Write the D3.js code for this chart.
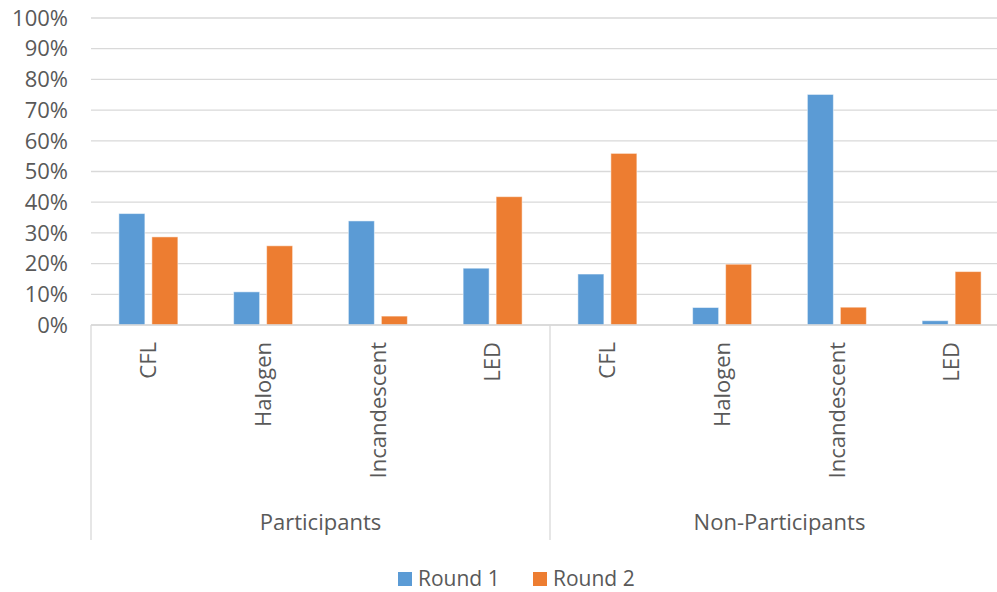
<!DOCTYPE html>
<html>
    <head>
        <meta charset="utf-8" />
        <style>
            body{ margin: 0; background: #fff; }
            svg{ display: block; }
            text{ font-family: "Open Sans", sans-serif; font-size: 22px; fill: #595959; }
            .legend text{ font-size: 21px; }
        </style>
    </head>
    <body>
        <svg id="chart" width="997" height="592"></svg>
        <script src="https://cdnjs.cloudflare.com/ajax/libs/d3/7.8.5/d3.min.js" charset="utf-8"></script>
        <script>
            var groups = ['Participants', 'Non-Participants'];
            var lampTypes = ['CFL', 'Halogen', 'Incandescent', 'LED'];
            var seriesNames = ['Round 1', 'Round 2'];
            var round1 = [0.363, 0.108, 0.339, 0.185, 0.166, 0.057, 0.751, 0.014];
            var round2 = [0.287, 0.258, 0.029, 0.418, 0.559, 0.198, 0.058, 0.174];
            var yTicks = [0, 0.1, 0.2, 0.3, 0.4, 0.5, 0.6, 0.7, 0.8, 0.9, 1];
            var colors = ['#5b9bd5', '#ed7d31'];

            var svg = d3.select('#chart');
            var width = 997, height = 592;

            // one entry per bar cluster, built from the arrays above
            var rows = [];
            groups.forEach(function(g, gi){
                lampTypes.forEach(function(t, ti){
                    var i = gi * lampTypes.length + ti;
                    rows.push({ key: i, group: g, type: t, values: [round1[i], round2[i]] });
                });
            });

            var plotLeft = 91, plotRight = 1009, plotBase = 325, plotTop = 18;

            var x0 = d3.scaleBand().domain(rows.map(function(d){ return d.key; }))
                .range([plotLeft, plotRight]).paddingInner(0).paddingOuter(0);
            var x1 = d3.scaleBand().domain([0, 1]).range([0, x0.bandwidth()])
                .paddingInner(0.212).paddingOuter(0.845);
            var y = d3.scaleLinear().domain([0, 1]).range([plotBase, plotTop]);
            var gx = d3.scaleBand().domain(groups).range([plotLeft, plotRight]);

            // gridlines
            svg.append('g').selectAll('line').data(yTicks).enter().append('line')
                .attr('x1', plotLeft).attr('x2', width)
                .attr('y1', function(d){ return y(d); })
                .attr('y2', function(d){ return y(d); })
                .attr('stroke', '#d9d9d9').attr('stroke-width', 1.3);

            // y labels
            svg.append('g').selectAll('text').data(yTicks).enter().append('text')
                .attr('x', 68).attr('y', function(d){ return y(d); })
                .attr('dy', '0.35em').attr('text-anchor', 'end')
                .text(d3.format('.0%'));

            // bars
            var cluster = svg.append('g').selectAll('g').data(rows).enter().append('g')
                .attr('transform', function(d){ return 'translate(' + x0(d.key) + ',0)'; });
            cluster.selectAll('rect').data(function(d){ return d.values; }).enter().append('rect')
                .attr('x', function(d, i){ return x1(i); })
                .attr('width', x1.bandwidth())
                .attr('y', function(d){ return y(d); })
                .attr('height', function(d){ return plotBase - y(d); })
                .attr('fill', function(d, i){ return colors[i]; })
                .attr('stroke', '#fff').attr('stroke-opacity', 0.5).attr('stroke-width', 1);

            // category axis lines
            svg.append('line').attr('x1', plotLeft).attr('x2', width).attr('y1', plotBase).attr('y2', plotBase)
                .attr('stroke', '#d9d9d9').attr('stroke-width', 1.3);
            var dividers = groups.map(function(g){ return gx(g); }).concat([plotRight]);
            svg.append('g').selectAll('line').data(dividers).enter().append('line')
                .attr('x1', function(d){ return d; }).attr('x2', function(d){ return d; })
                .attr('y1', plotBase).attr('y2', 540)
                .attr('stroke', '#d9d9d9').attr('stroke-width', 1.3);

            // category labels
            svg.append('g').selectAll('text').data(rows).enter().append('text')
                .attr('transform', function(d){
                    return 'translate(' + (x0(d.key) + x0.bandwidth() / 2) + ',342) rotate(-90)';
                })
                .attr('dy', '0.35em').attr('text-anchor', 'end')
                .text(function(d){ return d.type; });

            // group labels
            svg.append('g').selectAll('text').data(groups).enter().append('text')
                .attr('x', function(d){ return gx(d) + gx.bandwidth() / 2; })
                .attr('y', 530).attr('text-anchor', 'middle')
                .text(function(d){ return d; });

            // legend
            var legend = svg.append('g').attr('class', 'legend').selectAll('g').data(seriesNames).enter().append('g')
                .attr('transform', function(d, i){ return 'translate(' + (398 + i * 135) + ',572)'; });
            legend.append('rect').attr('width', 14).attr('height', 14)
                .attr('fill', function(d, i){ return colors[i]; });
            legend.append('text').attr('x', 20).attr('y', 7).attr('dy', '0.35em')
                .text(function(d){ return d; });
        </script>
    </body>
</html>
